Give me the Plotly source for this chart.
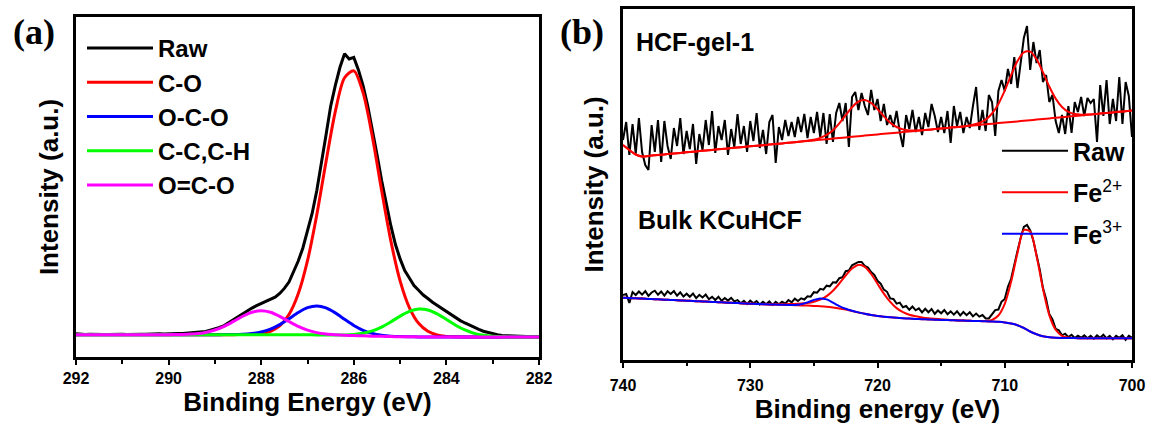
import plotly.graph_objects as go

FONT = "Liberation Sans, Arial, sans-serif"
SERIF = "Liberation Serif, Times New Roman, serif"

# ---------------- Panel (a): C 1s ----------------
be_a_fit = [round(282 + 0.2 * i, 1) for i in range(51)]     # 282.0 ... 292.0 eV
be_a_raw = [round(282 + 0.1 * i, 1) for i in range(101)]    # 282.0 ... 292.0 eV

raw_a = [0.05, 0.1, 0.08, 0.2, 0.18, 0.3, 0.35, 0.5, 0.62, 0.9,
         1.3, 1.7, 2.2, 2.9, 3.6, 4.4, 5.3, 6.2, 7.3, 8.4,
         9.6, 10.6, 12.0, 13.1, 14.5, 15.8, 17.6, 19.4, 22.2, 25.0,
         29.4, 34.8, 41.9, 50.0, 59.0, 68.8, 78.2, 87.0, 94.6, 100.5,
         105.2, 104.6, 106.6, 101.4, 94.6, 86.8, 76.0, 65.0, 55.0, 46.5,
         39.6, 33.5, 28.6, 24.3, 20.7, 18.3, 16.4, 15.0, 14.2, 13.4,
         12.9, 11.8, 10.9, 9.8, 8.6, 7.4, 6.2, 5.2, 4.3, 3.6,
         3.0, 2.6, 2.1, 1.9, 1.7, 1.5, 1.45, 1.3, 1.35, 1.2,
         1.25, 1.15, 1.2, 1.1, 1.15, 1.05, 1.1, 1.0, 1.1, 1.0,
         1.05, 0.95, 1.05, 0.95, 1.0, 1.1, 0.95, 1.05, 1.0, 1.1,
         1.2]

c_o = [0, 0, 0, 0, 0, 0, 0, 0, 0.02, 0.08,
       0.26, 0.81, 2.17, 5.17, 11.1, 21.14, 36.19, 55.26, 75.45, 91.95,
       100.15, 97.54, 84.81, 65.97, 45.91, 28.74, 16.26, 8.47, 4.18, 2.19,
       1.36, 1.04, 0.94, 0.91, 0.9, 0.9, 0.9, 0.9, 0.9, 0.9,
       0.9, 0.9, 0.9, 0.9, 0.9, 0.9, 0.9, 0.9, 0.9, 0.9,
       0.9]

o_c_o = [0, 0, 0, 0, 0, 0, 0, 0, 0, 0,
         0, 0.02, 0.04, 0.07, 0.12, 0.19, 0.35, 0.70, 1.38, 2.56,
         4.36, 6.68, 9.09, 10.98, 11.71, 11.05, 9.24, 6.91, 4.69, 3.00,
         1.93, 1.34, 1.06, 0.95, 0.92, 0.9, 0.9, 0.9, 0.9, 0.9,
         0.9, 0.9, 0.9, 0.9, 0.9, 0.9, 0.9, 0.9, 0.9, 0.9,
         0.9]

c_c = [0, 0, 0.01, 0.03, 0.10, 0.27, 0.66, 1.40, 2.66, 4.46,
       6.63, 8.73, 10.19, 10.53, 9.65, 7.86, 5.71, 3.76, 2.31, 1.42,
       0.98, 0.81, 0.77, 0.79, 0.81, 0.84, 0.86, 0.87, 0.88, 0.89,
       0.9, 0.9, 0.9, 0.9, 0.9, 0.9, 0.9, 0.9, 0.9, 0.9,
       0.9, 0.9, 0.9, 0.9, 0.9, 0.9, 0.9, 0.9, 0.9, 0.9,
       0.9]

o_eq_c_o = [0, 0, 0, 0, 0, 0, 0, 0, 0, 0,
            0, 0.02, 0.04, 0.07, 0.10, 0.14, 0.19, 0.26, 0.35, 0.45,
            0.56, 0.68, 0.85, 1.13, 1.66, 2.59, 4.01, 5.86, 7.80, 9.32,
            9.90, 9.33, 7.82, 5.89, 4.05, 2.65, 1.75, 1.26, 1.04, 0.94,
            0.91, 0.9, 0.9, 0.9, 0.9, 0.9, 0.9, 0.9, 0.9, 0.9,
            0.9]

# ---------------- Panel (b): Fe 2p ----------------
be_b_fit = [round(740 - 0.5 * i, 1) for i in range(81)]     # 740 ... 700 eV
be_b_raw = [round(740 - 0.25 * i, 2) for i in range(161)]   # 740 ... 700 eV

gel_raw = [220, 238, 205, 236, 206, 242, 208, 195, 190, 235,
           208, 240, 198, 239, 214, 201, 232, 214, 242, 206,
           229, 211, 236, 196, 226, 210, 240, 215, 249, 207,
           234, 220, 240, 205, 231, 213, 246, 216, 234, 208,
           239, 219, 247, 212, 230, 206, 238, 245, 197, 233,
           220, 240, 224, 238, 223, 243, 228, 246, 222, 243,
           227, 248, 223, 247, 216, 246, 218, 247, 257, 239,
           257, 213, 263, 268, 250, 267, 254, 245, 270, 250,
           261, 239, 256, 235, 245, 233, 249, 228, 213, 245,
           231, 250, 228, 243, 225, 247, 233, 256, 244, 228,
           243, 227, 249, 217, 254, 234, 248, 227, 243, 232,
           254, 273, 230, 250, 229, 265, 258, 224, 269, 280,
           269, 291, 276, 303, 272, 296, 322, 334, 290, 318,
           297, 310, 278, 285, 258, 265, 239, 227, 245, 226,
           254, 227, 258, 248, 263, 244, 262, 257, 261, 218,
           275, 244, 280, 236, 261, 239, 283, 236, 278, 264,
           223]

gel_fit = [215, 210, 205.5, 203.5, 204.1, 204.7, 205.3, 205.9, 206.5, 207.1,
           207.7, 208.3, 208.9, 209.5, 210.1, 210.7, 211.3, 211.9, 212.5, 213.1,
           213.7, 214.3, 214.8, 215.4, 216.0, 216.6, 217.2, 217.8, 218.5, 219.3,
           220.3, 222.1, 225.1, 229.8, 236.6, 244.8, 252.8, 258.5, 260.0, 257.0,
           250.9, 243.7, 237.3, 233.0, 230.6, 229.6, 229.5, 229.8, 230.3, 230.9,
           231.5, 232.1, 232.7, 233.3, 234.1, 235.2, 237.0, 240.4, 246.5, 256.1,
           269.4, 284.9, 298.9, 307.7, 308.3, 300.7, 287.8, 273.5, 261.4, 253.0,
           248.1, 245.9, 245.3, 245.4, 245.8, 246.4, 247.0, 247.6, 248.2, 248.8,
           249.4]

gel_bg = [215, 210, 205.5, 203.5, 204.1, 204.7, 205.3, 205.9, 206.5, 207.1,
          207.7, 208.3, 208.9, 209.5, 210.1, 210.7, 211.3, 211.9, 212.5, 213.1,
          213.7, 214.3, 214.8, 215.4, 216.0, 216.6, 217.2, 217.8, 218.4, 219.0,
          219.6, 220.2, 220.8, 221.4, 222.0, 222.6, 223.2, 223.8, 224.4, 225.0,
          225.6, 226.2, 226.7, 227.3, 227.9, 228.5, 229.1, 229.7, 230.3, 230.9,
          231.5, 232.1, 232.7, 233.3, 233.9, 234.5, 235.1, 235.7, 236.3, 236.9,
          237.5, 238.1, 238.6, 239.2, 239.8, 240.4, 241.0, 241.6, 242.2, 242.8,
          243.4, 244.0, 244.6, 245.2, 245.8, 246.4, 247.0, 247.6, 248.2, 248.8,
          249.4]

bulk_raw = [65, 66, 57, 68, 65, 68.5, 65.4, 68.8, 64.1, 67.5,
            69.3, 65.2, 68.5, 64.4, 68.7, 66.1, 68.9, 64.3, 67.6, 63.5,
            66.3, 63.2, 66.5, 61.9, 65.2, 62.6, 65.4, 60.8, 63.1, 60,
            63.3, 59.2, 62, 59.4, 62.2, 58.6, 59.9, 56.8, 59.1, 56,
            59.3, 56.7, 59, 55.4, 58.3, 55.7, 58.6, 55.1, 58.1, 55.7,
            58.2, 56.3, 60, 57.7, 61.4, 59, 61.7, 60.5, 63.8, 63.3,
            67.8, 67.3, 71.2, 70.3, 74.3, 73.7, 77.7, 77.4, 81.8, 82.9,
            88.8, 89.4, 94.7, 96.8, 98.1, 98.1, 94.1, 92.5, 88, 85.1,
            79.2, 76.3, 70.4, 68.2, 61.6, 61, 56.4, 57.4, 52.8, 54,
            50.2, 53.5, 49.7, 51.7, 47.6, 51.2, 47.8, 51, 46.2, 49.5,
            46.7, 50, 45.8, 48.6, 45.4, 48.8, 44.6, 48, 44.8, 47.7,
            43.6, 46.5, 43.4, 45, 41.5, 41.6, 45.2, 49.9, 50.5, 58.3,
            61.1, 73.2, 81.2, 96.6, 109, 122, 133, 135, 129.5, 119.2,
            104.9, 90.6, 72.3, 61.1, 45.9, 40.5, 31.2, 29.7, 24.7, 26.3,
            22.9, 25.2, 22, 24.4, 22.3, 24.8, 21.8, 24.3, 21.3, 24.7,
            22.2, 25.2, 21.7, 24.2, 20.7, 24.2, 22.2, 24.7, 20.2, 24.2,
            22.2]

bulk_bg = [62.3, 62.0, 61.7, 61.4, 61.1, 60.8, 60.5, 60.2, 59.9, 59.6,
           59.3, 59.0, 58.7, 58.4, 58.1, 57.8, 57.5, 57.2, 56.9, 56.6,
           56.3, 56.0, 55.8, 55.6, 55.4, 55.2, 55.0, 54.8, 54.6, 54.4,
           54.1, 53.7, 53.2, 52.5, 51.6, 50.4, 49.0, 47.6, 46.2, 45.0,
           44.0, 43.3, 42.7, 42.2, 41.8, 41.4, 41.1, 40.8, 40.5, 40.3,
           40.1, 39.9, 39.7, 39.5, 39.3, 39.1, 38.9, 38.7, 38.5, 38.2,
           37.6, 36.5, 34.8, 32.0, 28.5, 25.8, 23.8, 22.7, 22.2, 22.0,
           21.9, 21.9, 21.8, 21.8, 21.8, 21.7, 21.7, 21.7, 21.7, 21.7,
           21.7]

bulk_fe2 = [62.3, 62.0, 61.7, 61.4, 61.1, 60.8, 60.5, 60.2, 59.9, 59.6,
            59.3, 59.0, 58.7, 58.4, 58.1, 57.8, 57.5, 57.2, 56.9, 56.6,
            56.3, 56.0, 55.8, 55.6, 55.6, 55.7, 55.9, 56.1, 56.5, 57.1,
            58.3, 60.3, 63.9, 69.3, 76.5, 84.5, 91.5, 95.1, 93.1, 86.0,
            76.2, 66.4, 58.1, 51.9, 47.8, 45.2, 43.7, 42.6, 41.8, 41.2,
            40.7, 40.3, 39.9, 39.6, 39.3, 39.1, 38.9, 39.0, 40.2, 44.5,
            56.1, 78.2, 107.0, 130.0, 128.5, 103.9, 71.3, 44.9, 30.2, 24.2,
            22.4, 22.0, 21.8, 21.8, 21.8, 21.7, 21.7, 21.7, 21.7, 21.7,
            21.7]

bulk_fe3 = [62.3, 62.0, 61.7, 61.4, 61.1, 60.8, 60.5, 60.2, 59.9, 59.6,
            59.3, 59.0, 58.7, 58.4, 58.1, 57.8, 57.5, 57.2, 56.9, 56.6,
            56.3, 56.0, 55.8, 55.6, 55.4, 55.2, 55.1, 55.1, 55.8, 57.6,
            60.1, 61.6, 60.6, 57.4, 53.9, 51.2, 49.2, 47.6, 46.2, 45.0,
            44.0, 43.3, 42.7, 42.2, 41.8, 41.4, 41.1, 40.8, 40.5, 40.3,
            40.1, 39.9, 39.7, 39.5, 39.3, 39.1, 38.9, 38.7, 38.5, 38.2,
            37.6, 36.5, 34.8, 32.0, 28.5, 25.8, 23.8, 22.7, 22.2, 22.0,
            21.9, 21.9, 21.8, 21.8, 21.8, 21.7, 21.7, 21.7, 21.7, 21.7,
            21.7]

for arr in (c_o, o_c_o, c_c, o_eq_c_o):
    assert len(arr) == len(be_a_fit), len(arr)
assert len(raw_a) == len(be_a_raw), len(raw_a)
for arr in (gel_fit, gel_bg, bulk_bg, bulk_fe2, bulk_fe3):
    assert len(arr) == len(be_b_fit), len(arr)
for arr in (gel_raw, bulk_raw):
    assert len(arr) == len(be_b_raw), len(arr)

fig = go.Figure()

# panel (a)
fig.add_trace(go.Scatter(x=be_a_raw, y=raw_a, mode="lines", name="Raw",
                         line=dict(color="black", width=3), legend="legend"))
for name, ys, col in [("C-O", c_o, "#FF0000"), ("O-C-O", o_c_o, "#0000FF"),
                      ("C-C,C-H", c_c, "#00FF00"), ("O=C-O", o_eq_c_o, "#FF00FF")]:
    fig.add_trace(go.Scatter(x=be_a_fit, y=ys, mode="lines", name=name,
                             line=dict(color=col, width=3, shape="spline", smoothing=0.8),
                             legend="legend"))

# panel (b)
fig.add_trace(go.Scatter(x=be_b_raw, y=gel_raw, mode="lines", showlegend=False,
                         line=dict(color="black", width=2), xaxis="x2", yaxis="y2"))
fig.add_trace(go.Scatter(x=be_b_fit, y=gel_bg, mode="lines", showlegend=False,
                         line=dict(color="#FF0000", width=2, shape="spline", smoothing=0.8),
                         xaxis="x2", yaxis="y2"))
fig.add_trace(go.Scatter(x=be_b_fit, y=gel_fit, mode="lines", showlegend=False,
                         line=dict(color="#FF0000", width=2, shape="spline", smoothing=0.8),
                         xaxis="x2", yaxis="y2"))
fig.add_trace(go.Scatter(x=be_b_raw, y=bulk_raw, mode="lines", name="<b>Raw</b>",
                         line=dict(color="black", width=2), xaxis="x2", yaxis="y2",
                         legend="legend2", legendgroup="g1"))
fig.add_trace(go.Scatter(x=be_b_fit, y=bulk_bg, mode="lines", showlegend=False,
                         line=dict(color="#FF0000", width=2, shape="spline", smoothing=0.8),
                         xaxis="x2", yaxis="y2"))
fig.add_trace(go.Scatter(x=be_b_fit, y=bulk_fe2, mode="lines", name="<b>Fe</b><sup>2+</sup>",
                         line=dict(color="#FF0000", width=2, shape="spline", smoothing=0.8),
                         xaxis="x2", yaxis="y2", legend="legend2", legendgroup="g2"))
fig.add_trace(go.Scatter(x=be_b_fit, y=bulk_fe3, mode="lines", name="<b>Fe</b><sup>3+</sup>",
                         line=dict(color="#0000FF", width=2, shape="spline", smoothing=0.8),
                         xaxis="x2", yaxis="y2", legend="legend2", legendgroup="g3"))

W, H = 1151, 426
tickfont = dict(family=FONT, size=16, color="black", weight="bold")
titlefont = dict(family=FONT, size=26, color="black", weight="bold")

common_x = dict(showline=True, mirror=True, linecolor="black", linewidth=2.5,
                ticks="outside", tickcolor="black", tickwidth=2, showgrid=False,
                zeroline=False, tickfont=tickfont, automargin=False)
common_y = dict(showline=True, mirror=True, linecolor="black", linewidth=2.5,
                ticks="", showticklabels=False, showgrid=False, zeroline=False,
                automargin=False)

fig.update_layout(
    width=W, height=H, margin=dict(l=0, r=0, t=0, b=0),
    paper_bgcolor="white", plot_bgcolor="white",
    font=dict(family=FONT, color="black"),
    xaxis=dict(domain=[76 / W, 539 / W], range=[292, 282], tick0=282, dtick=2, ticklen=5,
               ticklabelstandoff=0,
               minor=dict(dtick=1, ticklen=4, tickwidth=2, ticks="outside", tickcolor="black"),
               title=dict(text="Binding Energy (eV)", font=titlefont, standoff=0),
               anchor="y", **common_x),
    yaxis=dict(domain=[1 - 357 / H, 1 - 17 / H], range=[-7.5, 120.4], anchor="x",
               title=dict(text="Intensity (a.u.)", font=titlefont, standoff=8), **common_y),
    xaxis2=dict(domain=[623 / W, 1132 / W], range=[740, 700], tick0=700, dtick=10, ticklen=6,
                ticklabelstandoff=4,
                minor=dict(dtick=5, ticklen=4, tickwidth=2, ticks="outside", tickcolor="black"),
                title=dict(text="Binding energy (eV)", font=titlefont, standoff=2),
                anchor="y2", **common_x),
    yaxis2=dict(domain=[1 - 359.5 / H, 1 - 9.3 / H], range=[0.5, 350.7], anchor="x2",
                title=dict(text="Intensity (a.u.)", font=titlefont, standoff=10), **common_y),
    legend=dict(x=82 / W, y=1 - 26 / H, xanchor="left", yanchor="top",
                bgcolor="rgba(0,0,0,0)", borderwidth=0, itemwidth=66, tracegroupgap=0,
                font=dict(family=FONT, size=24, color="black", weight="bold")),
    legend2=dict(x=997 / W, y=1 - 128 / H, xanchor="left", yanchor="top",
                 bgcolor="rgba(0,0,0,0)", borderwidth=0, itemwidth=66, tracegroupgap=6,
                 font=dict(family=FONT, size=25, color="black")),
    annotations=[
        dict(text="(a)", x=34 / W, y=1 - 32 / H, xref="paper", yref="paper",
             xanchor="center", yanchor="middle", showarrow=False,
             font=dict(family=SERIF, size=36, color="black", weight="bold")),
        dict(text="(b)", x=582 / W, y=1 - 32 / H, xref="paper", yref="paper",
             xanchor="center", yanchor="middle", showarrow=False,
             font=dict(family=SERIF, size=36, color="black", weight="bold")),
        dict(text="HCF-gel-1", x=634 / W, y=1 - 42 / H, xref="paper", yref="paper",
             xanchor="left", yanchor="middle", showarrow=False,
             font=dict(family=FONT, size=25, color="black", weight="bold")),
        dict(text="Bulk KCuHCF", x=636 / W, y=1 - 220 / H, xref="paper", yref="paper",
             xanchor="left", yanchor="middle", showarrow=False,
             font=dict(family=FONT, size=25, color="black", weight="bold")),
    ],
)

fig.write_html("out.html", config={"displayModeBar": False},
               post_script="document.body.style.margin='0px';")
